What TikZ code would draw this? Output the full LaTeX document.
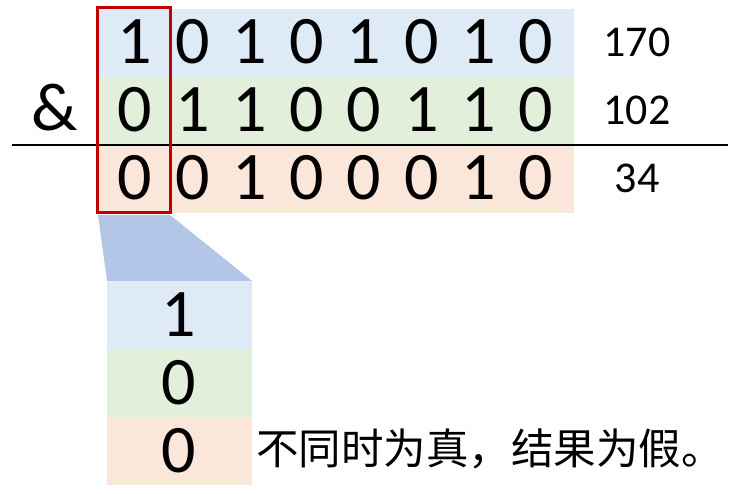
\documentclass[tikz,border=0pt]{standalone}
\usepackage{fontspec}
\setmainfont{Carlito}
\newfontfamily\cjk{Noto Sans CJK SC}
\definecolor{bandblue}{HTML}{DEEAF6}
\definecolor{bandgreen}{HTML}{E2EFDA}
\definecolor{bandred}{HTML}{FBE6DA}
\definecolor{boxred}{HTML}{C00000}
\definecolor{trap}{HTML}{B4C6E7}
\begin{document}
\begin{tikzpicture}[x=1pt,y=-1pt,
  bit/.style={inner sep=0pt,font=\fontsize{68}{68}\selectfont},
  dec/.style={inner sep=0pt,font=\fontsize{44}{44}\selectfont},
  note/.style={inner sep=0pt,anchor=west,font=\cjk\fontsize{42.5}{42.5}\selectfont}]
\useasboundingbox (0,0) rectangle (738,494);
% bands
\fill[bandblue] (97,9) rectangle (574,77);
\fill[bandgreen] (97,77) rectangle (574,145);
\fill[bandred] (97,145) rectangle (574,213);
% rule
\draw[line width=2.2pt] (12,145) -- (728,145);
% digits
\foreach \d [count=\i from 0] in {1,0,1,0,1,0,1,0}
  \node[bit] (a\i) at (135+57.3*\i,42) {\d};
\foreach \d [count=\i from 0] in {0,1,1,0,0,1,1,0}
  \node[bit] (b\i) at (135+57.3*\i,110) {\d};
\foreach \d [count=\i from 0] in {0,0,1,0,0,0,1,0}
  \node[bit] (c\i) at (135+57.3*\i,178) {\d};
\node[bit] (amp) at (55,108) {\&};
\node[dec] (n1) at (637,42) {170};
\node[dec] (n2) at (637,110) {102};
\node[dec] (n3) at (637,178) {34};
% red box
\draw[boxred,line width=3pt] (97,8) rectangle (170,213);
% trapezoid
\fill[trap] (98,215) -- (170,215) -- (252,281) -- (107,281) -- cycle;
% column
\fill[bandblue] (107,281) rectangle (252,349);
\fill[bandgreen] (107,349) rectangle (252,417);
\fill[bandred] (107,417) rectangle (252,485);
\node[bit] (d1) at (179,315) {1};
\node[bit] (d2) at (179,383) {0};
\node[bit] (d3) at (179,451) {0};
\node[note] (t) at (256,449) {不同时为真，结果为假。};
\end{tikzpicture}
\end{document}
